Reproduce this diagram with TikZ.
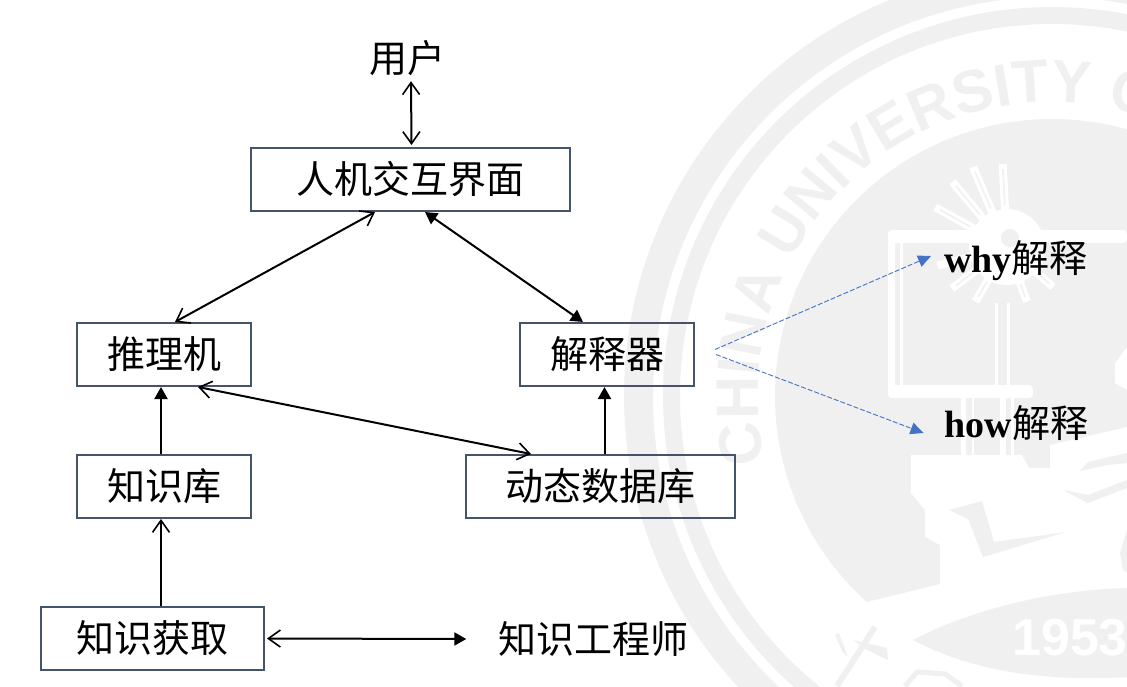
\documentclass[tikz,border=0pt]{standalone}
\usepackage{fontspec}
\setmainfont{Noto Sans CJK SC}
\newfontfamily\latinfont{Liberation Serif}
\newfontfamily\wmfont{Liberation Sans}
\usetikzlibrary{arrows.meta,decorations.text}
\definecolor{boxcol}{HTML}{44546A}
\definecolor{wmgrey}{HTML}{F0F0F0}
\definecolor{dashcol}{HTML}{4472C4}
\tikzset{
  procbox/.style={draw=boxcol,line width=2pt,inner sep=0pt,text height=33pt,text depth=5pt,
    font=\fontsize{38}{38}\selectfont},
  plaintext/.style={inner sep=0pt,text height=33pt,text depth=5pt,font=\fontsize{38}{38}\selectfont},
  link/.style={line width=2pt,black},
  opentip/.tip={Straight Barb[length=12pt,width=17pt,line width=1.6pt]},
  filltip/.tip={Triangle[length=12pt,width=13pt]},
  dashlink/.style={dashed,dash pattern=on 5pt off 2pt,line width=.9pt,dashcol,
    -{Triangle[length=13pt,width=12pt]}},
  whiteline/.style={white,line width=#1},
}
\begin{document}
\begin{tikzpicture}[x=1pt,y=-1pt]
\useasboundingbox (0,0) rectangle (1127,686);

%% watermark
\begin{scope}
\clip (0,0) rectangle (1127,686);
\begin{scope}[shift={(1052,396)},y=1pt]
\fill[wmgrey,even odd rule] (0,0) circle (428) (0,0) circle (399);
\fill[wmgrey,even odd rule] (0,0) circle (389) (0,0) circle (372);
\fill[wmgrey] (0,0) circle (277);
\path[decorate,decoration={text along path,text align={left},text color=wmgrey,
  text={|\wmfont\bfseries\fontsize{60}{60}\selectfont|CHINA UNIVERSITY OF}}]
  (193:294) arc (193:20:294);
\end{scope}
\fill[white] (863,603) -- (940,584) -- (940,545) -- (925,537) -- (925,510) -- (911,493)
  -- (911,455) -- (1022,455) -- (1029,468) -- (1050,468) -- (1050,445) -- (1127,427)
  -- (1127,686) -- (863,686) -- cycle;
\fill[white] (1127,347) -- (1115,363) -- (1115,383) -- (1127,390) -- cycle;
\fill[wmgrey] (913,640) .. controls (970,610) and (1050,590) .. (1127,588)
  -- (1127,677) .. controls (1040,682) and (970,670) .. (913,640) -- cycle;
\node[anchor=west,inner sep=0pt,white] (wmyear) at (1012,638)
  {\wmfont\bfseries\fontsize{52}{52}\selectfont 1953};
\fill[wmgrey] (949,510) -- (982,501) -- (994,542) -- (1066,532) -- (983,557) -- (968,519) -- cycle;
\fill[wmgrey] (1080,471) -- (1088,462) -- (1127,453) -- (1127,463) -- (1107,465) -- cycle;
\fill[wmgrey] (1063,490) -- (1088,503) -- (1127,488) -- (1127,480) -- (1088,495) -- cycle;
\fill[wmgrey] (1127,530) -- (1120,553) -- (1123,570) -- (1127,572) -- cycle;
\draw[wmgrey,line width=6pt] (837,686) -- (875,627);
\fill[wmgrey] (853,640) -- (887,648) -- (888,660) -- (867,650) -- cycle;
\fill[wmgrey] (835,635) -- (839,633) -- (848,657) -- (843,653) -- cycle;
\draw[wmgrey,line width=5pt] (905,686) -- (917,672) -- (945,674) -- (962,686);

%% emblem of the watermark
\fill[white,rounded corners=4pt] (888,230) rectangle (1127,243);
\fill[white,rounded corners=4pt] (888,230) rectangle (895,398);
\fill[white] (900,243) rectangle (903,388);
\fill[white,rounded corners=4pt] (888,385) rectangle (1033,398);
\fill[white] (995,303) rectangle (998,388);
\fill[white] (1007,303) rectangle (1010,388);
\fill[white] (961,398) rectangle (966,455);
\fill[white] (972,398) rectangle (974,455);
\fill[white] (1000,398) rectangle (1006,455);
\fill[white] (1011,398) rectangle (1014,455);
\begin{scope}[shift={(1007,247)},y=1pt]
\fill[white] (0,0) circle (38);
\draw[whiteline=8pt] (93:30) -- (93:83) (113:30) -- (113:87) (130:30) -- (130:85)
  (151:30) -- (151:82) (195:30) -- (195:72) (217:30) -- (217:69) (240:30) -- (240:63)
  (-70:30) -- (-70:58) (-41:30) -- (-41:61);
\draw[wmgrey,line width=1.5pt] (93:42) -- (93:78) (113:42) -- (113:82) (130:42) -- (130:80)
  (151:42) -- (151:77) (217:40) -- (217:64) (240:40) -- (240:58) (-70:40) -- (-70:53) (-41:40) -- (-41:56);
\fill[wmgrey] (3,9) circle (9);
\end{scope}
\end{scope}

%% boxes
\node[procbox,minimum width=319pt,minimum height=63pt] (jiemian) at (410.5,179.5) {人机交互界面};
\node[procbox,minimum width=174pt,minimum height=63pt] (tuili) at (164,354.5) {推理机};
\node[procbox,minimum width=174pt,minimum height=63pt] (jieshi) at (607,354.5) {解释器};
\node[procbox,minimum width=174pt,minimum height=63pt] (zhishi) at (164,486.5) {知识库};
\node[procbox,minimum width=269pt,minimum height=63pt] (shuju) at (600.5,486.5) {动态数据库};
\node[procbox,minimum width=223pt,minimum height=63pt] (huoqu) at (152.5,638.5) {知识获取};

%% plain labels
\node[plaintext] (yonghu) at (407,58) {用户};
\node[plaintext] (gongcheng) at (593.5,639) {知识工程师};
\node[plaintext] (why) at (1016,258) {{\latinfont\bfseries why}解释};
\node[plaintext] (how) at (1016.5,423) {{\latinfont\bfseries how}解释};

%% connectors
\draw[link,{opentip}-{opentip}] ([xshift=4pt,yshift=-4pt]yonghu.south) -- ([xshift=1pt,yshift=2pt]jiemian.north);
\draw[link,{opentip}-{opentip}] ([xshift=-35.5pt]jiemian.south) -- ([xshift=11pt]tuili.north);
\draw[link,{filltip}-{filltip}] ([xshift=14.5pt]jiemian.south) -- ([xshift=-24pt]jieshi.north);
\draw[link,{opentip}-{opentip}] ([xshift=34pt]tuili.south) -- ([xshift=-69.5pt]shuju.north);
\draw[link,-{filltip}] ([xshift=-3pt]zhishi.north) -- ([xshift=-3pt]tuili.south);
\draw[link,-{filltip}] ([xshift=4pt]shuju.north) -- ([xshift=-2.5pt]jieshi.south);
\draw[link,-{opentip}] ([xshift=8.5pt]huoqu.north) -- ([xshift=-3pt]zhishi.south);
\draw[link,{opentip}-{filltip}] ([xshift=2pt]huoqu.east) -- ([xshift=-32pt]gongcheng.west);
\draw[dashlink] ([xshift=20pt,yshift=5pt]jieshi.east) -- ([xshift=-13pt,yshift=2pt]why.west);
\draw[dashlink] ([xshift=21pt]jieshi.east) -- ([xshift=-21pt,yshift=-10pt]how.west);

\end{tikzpicture}
\end{document}
